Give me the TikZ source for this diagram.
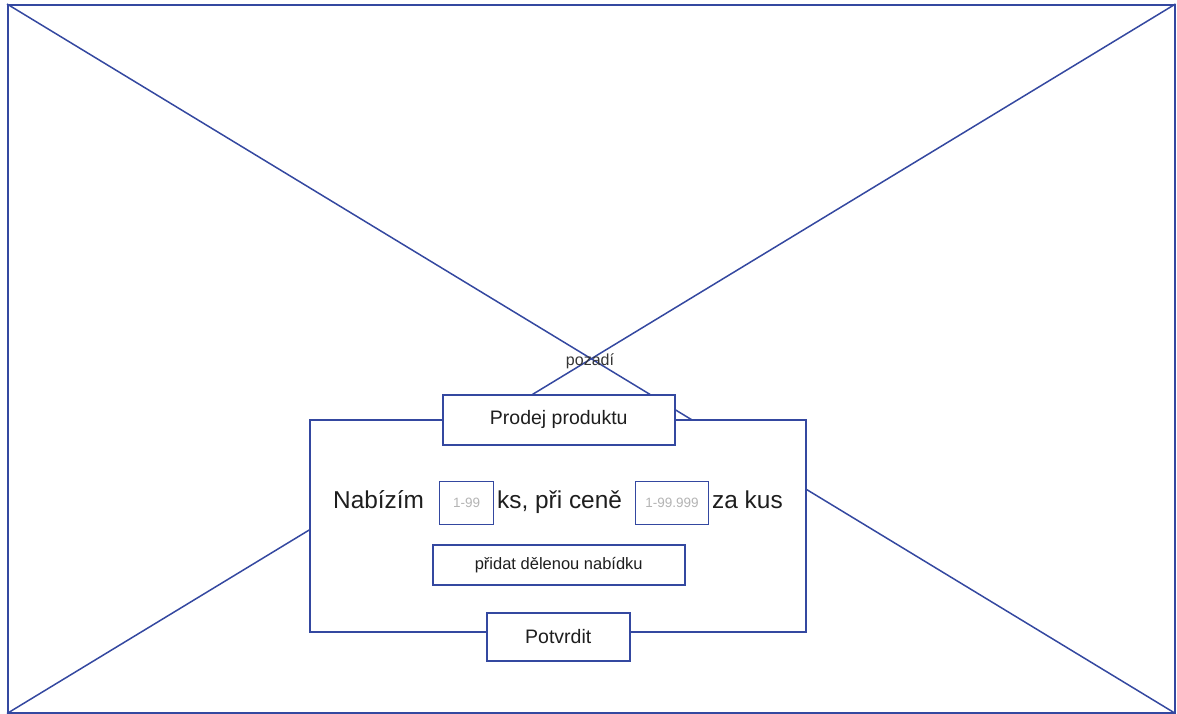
\documentclass[tikz,border=0pt]{standalone}
\usepackage{fontspec}
\setmainfont{Liberation Sans}
\definecolor{frame}{RGB}{52,72,160}
\definecolor{ink}{RGB}{30,30,30}
\definecolor{hint}{RGB}{180,180,180}
\newcommand{\fsz}[1]{\fontsize{#1}{#1}\selectfont}
\tikzset{
  box/.style={draw=frame, line width=1.5pt, fill=white, inner sep=0pt, anchor=north west, text=ink},
  lbl/.style={inner sep=0pt, text=ink},
  field/.style={draw=frame, line width=1.2pt, fill=white, inner sep=0pt, anchor=north west, text=hint, font=\fsz{13.5}},
  cross/.style={draw=frame, line width=1.5pt},
}
\begin{document}
\begin{tikzpicture}[x=1pt, y=-1pt]
\useasboundingbox (0,0) rectangle (1177,713);
% background placeholder with its cross
\node[box, fill=none, minimum width=1167pt, minimum height=708pt] (bg) at (7,4) {};
\draw[cross] (bg.north west) -- (bg.south east);
\draw[cross] (bg.north east) -- (bg.south west);
\node[lbl, font=\fsz{16}, text=ink!90] (bglabel) at (590,361) {pozadí};
% dialog
\node[box, minimum width=496pt, minimum height=212pt] (dialog) at (309,419) {};
\node[box, minimum width=232pt, minimum height=50pt, font=\fsz{19.5}] (title) at (442,394) {Prodej produktu};
% offer row
\node[lbl, anchor=base west, font=\fsz{24.4}] (offer) at (333,508) {Nabízím};
\node[field, minimum width=54pt, minimum height=43pt] (qty) at (439,481) {1-99};
\node[lbl, anchor=base west, font=\fsz{24.4}] (price) at (497,508) {ks, při ceně};
\node[field, minimum width=73pt, minimum height=43pt] (amount) at (635,481) {1-99.999};
\node[lbl, anchor=base west, font=\fsz{24.4}] (unit) at (712,508) {za kus};
% buttons
\node[box, minimum width=252pt, minimum height=40pt, font=\fsz{16.5}] (split) at (432,544) {přidat dělenou nabídku};
\node[box, minimum width=143pt, minimum height=48pt, font=\fsz{19.5}] (confirm) at (486,612) {Potvrdit};
\end{tikzpicture}
\end{document}
